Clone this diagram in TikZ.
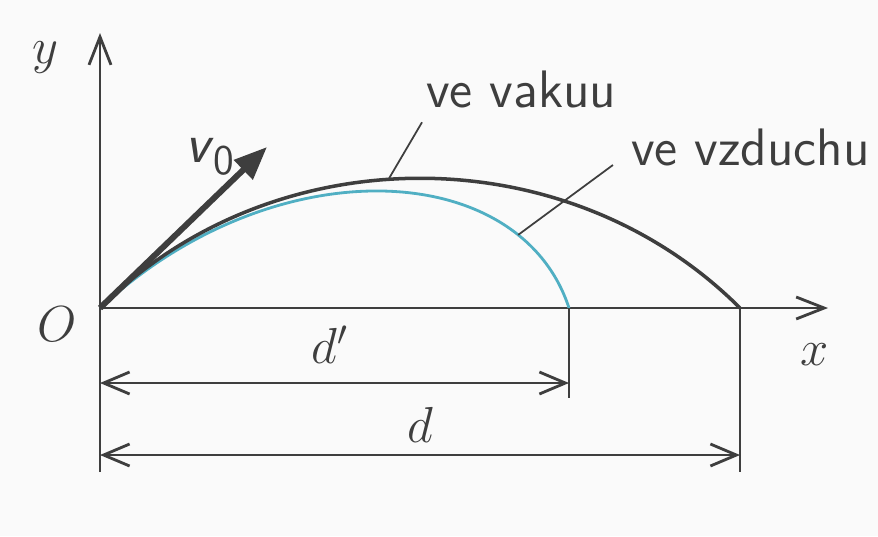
\documentclass[tikz,border=0pt]{standalone}
\usetikzlibrary{arrows.meta,positioning,calc}
\definecolor{ink}{RGB}{62,62,62}
\definecolor{airline}{RGB}{80,175,195}
\definecolor{paper}{RGB}{250,250,250}

\begin{document}
\begin{tikzpicture}[
    axis/.style    = {draw=ink, line width=0.8pt,
                      -{Straight Barb[length=2.8mm, width=2.2mm]}},
    dimline/.style = {draw=ink, line width=0.8pt,
                      {Straight Barb[length=2.6mm, width=2.2mm]}-{Straight Barb[length=2.6mm, width=2.2mm]}},
    guide/.style   = {draw=ink, line width=0.6pt},
    leader/.style  = {draw=ink, line width=0.5pt},
    vac/.style     = {draw=ink, line width=1pt},
    air/.style     = {draw=airline, line width=0.8pt},
    vel/.style     = {draw=ink, line width=1.7pt,
                      -{Triangle[length=3.3mm, width=2.6mm]}},
    lbl/.style     = {font=\fontsize{15}{17}\selectfont\sffamily, text=ink, inner sep=1pt},
    sym/.style     = {font=\Large, text=ink, inner sep=0pt},
]
\fill[paper] (-1.00,-2.28) rectangle (7.78,3.08);
\useasboundingbox (-1.00,-2.28) rectangle (7.78,3.08);

% points on the axes
\coordinate (O)     at (0,0);
\coordinate (ytop)  at (0,2.75);
\coordinate (ybot)  at (0,-1.64);
\coordinate (xtip)  at (7.28,0);
\coordinate (dpend) at (4.69,0);
\coordinate (dend)  at (6.40,0);
\coordinate (vtip)  at (1.67,1.61);

% axes
\draw[axis] (ybot) -- (ytop);
\draw[axis] (O) -- (xtip);
\node[sym] (ylab) at (-0.55,2.50) {$y$};
\node[sym] (xlab) at (7.15,-0.47) {$x$};
\node[sym] (olab) at (-0.43,-0.16) {$O$};

% trajectories
\draw[air] (O) .. controls (1.75,1.62) and (4.2,1.5) .. (dpend)
    coordinate[pos=0.8] (airpt);
\draw[vac] (O) .. controls (1.73,1.73) and (4.67,1.73) .. (dend)
    coordinate[pos=0.455] (vacpt);

% initial velocity
\draw[vel] (O) -- (vtip);
\node[lbl, font=\fontsize{16}{18}\selectfont\sffamily] (vlab) at (1.10,1.51)
    {\textsl{v}\raisebox{-0.5ex}{\fontsize{12}{14}\selectfont 0}};

% labels with leaders
\node[lbl, anchor=base west] (lvak) at (3.22,2.01) {ve vakuu};
\node[lbl, anchor=base west] (lvzd) at (5.27,1.43) {ve vzduchu};
\draw[leader] (vacpt) -- ([yshift=-3pt]lvak.south west);
\draw[leader] (airpt) -- ([xshift=-4pt]lvzd.base west);

% ranges
\draw[guide] (dpend) -- ++(0,-0.90) coordinate (dpbot);
\draw[guide] (dend) -- ++(0,-1.64) coordinate (dbot);
\draw[dimline] (0,-0.75) -- (dpend |- 0,-0.75);
\draw[dimline] (0,-1.47) -- (dend |- 0,-1.47);
\node[sym] (dplab) at (2.30,-0.37) {$d'$};
\node[sym] (dlab)  at (3.20,-1.17) {$d$};
\end{tikzpicture}
\end{document}
